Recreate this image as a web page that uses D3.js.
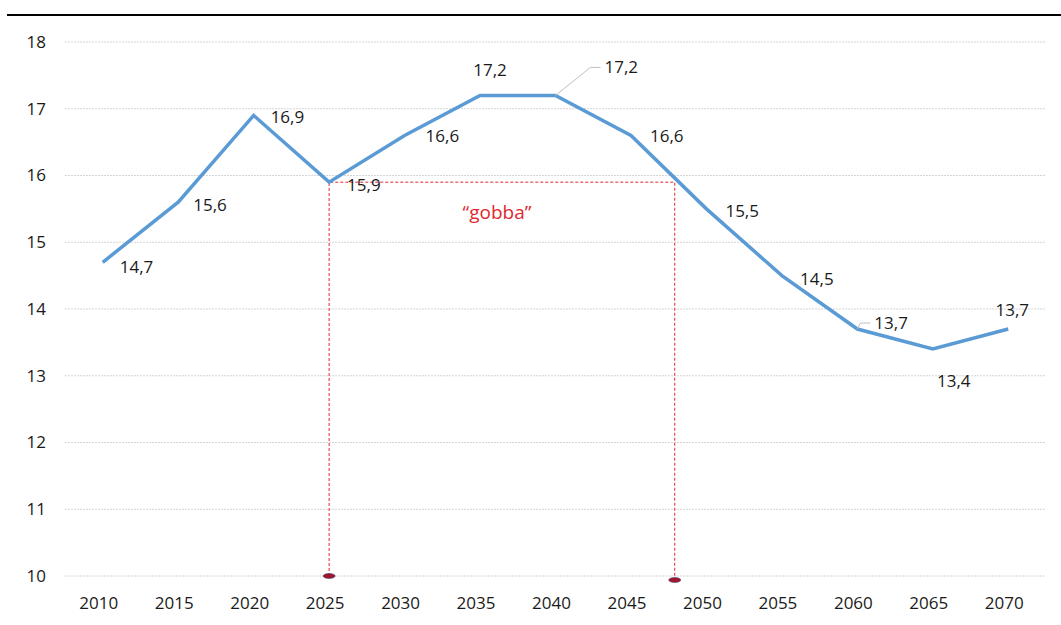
<!DOCTYPE html>
<html>
<head>
<meta charset="utf-8">
<script src="https://cdn.jsdelivr.net/npm/d3@7"></script>
<style>
  body { margin: 0; background: #fff; }
  svg text { font-family: "Open Sans", sans-serif; fill: #1a1a1a; }
</style>
</head>
<body>
<div id="chart"></div>
<script>
//chart data
var years = ["2010","2015","2020","2025","2030","2035","2040","2045","2050","2055","2060","2065","2070"];
var values = [14.7, 15.6, 16.9, 15.9, 16.6, 17.2, 17.2, 16.6, 15.5, 14.5, 13.7, 13.4, 13.7];
var yTicks = [10, 11, 12, 13, 14, 15, 16, 17, 18];
//the "gobba" span: start year and where the curve drops back to the same level
var humpLevel = 15.9;
var humpStart = 2025, humpEnd = 2047.9;

//where each data label sits relative to its point (Excel placed them by hand)
var labelOffsets = [
  {dx: 17, dy: 11, anchor: "start"},
  {dx: 15, dy: 9, anchor: "start"},
  {dx: 17, dy: 8, anchor: "start"},
  {dx: 18, dy: 9, anchor: "start"},
  {dx: 21, dy: 7, anchor: "start"},
  {dx: 10, dy: -19, anchor: "middle"},
  {dx: 49, dy: -22, anchor: "start", leader: true},
  {dx: 19, dy: 7, anchor: "start"},
  {dx: 19, dy: 8, anchor: "start"},
  {dx: 35, dy: 9, anchor: "middle"},
  {dx: 17, dy: 0, anchor: "start", leader: true},
  {dx: 21, dy: 38, anchor: "middle"},
  {dx: 4, dy: -13, anchor: "middle"}
];

var width = 1061, height = 625;
var margin = {top: 42, left: 65, right: 15};

var svg = d3.select("#chart").append("svg")
    .attr("width", width)
    .attr("height", height);

//black rule under the (cut off) title
svg.append("line")
    .attr("x1", 7).attr("x2", width)
    .attr("y1", 15).attr("y2", 15)
    .attr("stroke", "#000")
    .attr("stroke-width", 2);

var x = d3.scaleBand()
    .domain(years)
    .range([margin.left, width - margin.right]);

var xYear = d3.scaleLinear()
    .domain([2010, 2070])
    .range([x("2010") + x.bandwidth() / 2, x("2070") + x.bandwidth() / 2]);

var y = d3.scaleLinear()
    .domain([10, 18])
    .range([576, 42]);

//gridlines
svg.append("g")
    .selectAll("line")
    .data(yTicks)
    .enter().append("line")
    .attr("x1", margin.left)
    .attr("x2", width - margin.right)
    .attr("y1", d => y(d))
    .attr("y2", d => y(d))
    .attr("stroke", "#d4d4d4")
    .attr("stroke-width", 1)
    .attr("stroke-dasharray", "2,1");

//y axis labels
var yAxis = svg.append("g")
    .attr("transform", "translate(" + (margin.left - 19) + ",0)")
    .call(d3.axisLeft(y).tickValues(yTicks).tickSize(0).tickPadding(0));
yAxis.select(".domain").remove();
yAxis.selectAll("text")
    .style("font-size", "17px")
    .style("font-family", "'Open Sans', sans-serif")
    .attr("fill", "#1a1a1a");

//x axis labels
var xAxis = svg.append("g")
    .attr("transform", "translate(-4," + 597 + ")")
    .call(d3.axisBottom(x).tickSize(0).tickPadding(0));
xAxis.select(".domain").remove();
xAxis.selectAll("text")
    .style("font-size", "17px")
    .style("font-family", "'Open Sans', sans-serif")
    .attr("fill", "#1a1a1a");

//red dashed "gobba" box
var red = "#e0282e";
var gx1 = xYear(humpStart), gx2 = xYear(humpEnd), gy = y(humpLevel);
svg.append("path")
    .attr("d", "M" + gx1 + "," + y(10) + "V" + gy + "H" + gx2 + "V" + (y(10) + 4))
    .attr("fill", "none")
    .attr("stroke", red)
    .attr("stroke-width", 1)
    .attr("stroke-dasharray", "3,2");

svg.selectAll(".dot")
    .data([[gx1, y(10)], [gx2, y(10) + 4]])
    .enter().append("ellipse")
    .attr("cx", d => d[0])
    .attr("cy", d => d[1])
    .attr("rx", 6)
    .attr("ry", 2.5)
    .attr("fill", "#a3142a")
    .attr("stroke", "#3a4a7a")
    .attr("stroke-width", 0.6);

svg.append("text")
    .attr("x", (gx1 + gx2) / 2 - 5)
    .attr("y", gy + 37)
    .attr("text-anchor", "middle")
    .style("font-size", "19px")
    .style("fill", red)
    .text("\u201Cgobba\u201D");

//the main line
var line = d3.line()
    .x((d, i) => x(years[i]) + x.bandwidth() / 2)
    .y(d => y(d));

svg.append("path")
    .datum(values)
    .attr("d", line)
    .attr("fill", "none")
    .attr("stroke", "#5b9bd5")
    .attr("stroke-width", 3.5)
    .attr("stroke-linejoin", "miter");

//leader lines for the labels that were dragged away
values.forEach(function(v, i) {
  var o = labelOffsets[i];
  if (!o.leader) return;
  var px = x(years[i]) + x.bandwidth() / 2, py = y(v);
  var lx = px + o.dx - 4, ly = py + o.dy - 6;
  svg.append("path")
      .attr("d", "M" + px + "," + py + "L" + (lx - 10) + "," + ly + "H" + lx)
      .attr("fill", "none")
      .attr("stroke", "#bfbfbf")
      .attr("stroke-width", 1);
});

//data labels
svg.append("g")
    .selectAll("text")
    .data(values)
    .enter().append("text")
    .attr("x", (d, i) => x(years[i]) + x.bandwidth() / 2 + labelOffsets[i].dx)
    .attr("y", (d, i) => y(d) + labelOffsets[i].dy)
    .attr("text-anchor", (d, i) => labelOffsets[i].anchor)
    .style("font-size", "17px")
    .text(d => d.toFixed(1).replace(".", ","));
</script>
</body>
</html>
